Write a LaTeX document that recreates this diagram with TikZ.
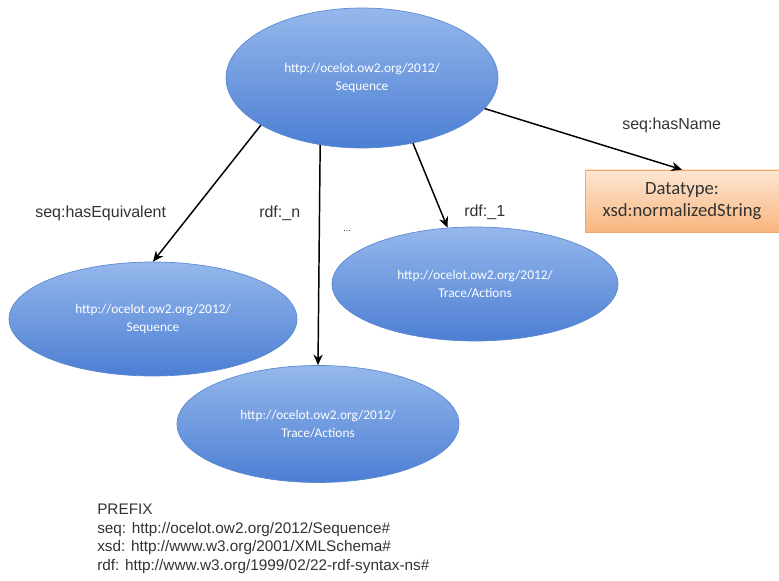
\documentclass[tikz,border=0pt]{standalone}
\usepackage{fontspec}
\setmainfont{Liberation Sans}
\newfontfamily\calib{Carlito}
\usetikzlibrary{shapes.geometric,arrows.meta}
\definecolor{bluetop}{HTML}{95B8EC}
\definecolor{bluebot}{HTML}{4C7ED3}
\definecolor{bluedraw}{HTML}{5B88CF}
\definecolor{orgtop}{HTML}{FDE6D2}
\definecolor{orgbot}{HTML}{F8B67E}
\definecolor{orgdraw}{HTML}{F3A866}
\definecolor{labelgray}{HTML}{333333}
\begin{document}
\begin{tikzpicture}[x=0.75pt,y=-0.75pt,
  res/.style={ellipse, draw=bluedraw, line width=0.5pt, top color=bluetop, bottom color=bluebot,
    text=white, font=\calib\fontsize{10}{14}\selectfont, align=center, inner sep=0pt},
  dtype/.style={rectangle, draw=orgdraw, line width=0.5pt, top color=orgtop, bottom color=orgbot,
    text=black!80, font=\calib\fontsize{14}{16}\selectfont, align=center, inner sep=0pt},
  conn/.style={-{Stealth[length=8pt,width=7pt]}, line width=1.1pt, black},
  lbl/.style={font=\fontsize{12}{14}\selectfont, text=labelgray, inner sep=0pt}
]
\useasboundingbox (0,0) rectangle (779,581);
\node[res, minimum width=272*0.75pt, minimum height=140*0.75pt] (top) at (362,78) {http://ocelot.ow2.org/2012/\\Sequence};
\node[res, minimum width=288*0.75pt, minimum height=114*0.75pt] (left) at (153,319) {http://ocelot.ow2.org/2012/\\Sequence};
\node[res, minimum width=286*0.75pt, minimum height=114*0.75pt] (right) at (475,284) {http://ocelot.ow2.org/2012/\\Trace/Actions};
\node[res, minimum width=282*0.75pt, minimum height=117*0.75pt] (bottom) at (318,424) {http://ocelot.ow2.org/2012/\\Trace/Actions};
\node[dtype, minimum width=194*0.75pt, minimum height=62*0.75pt] (dt) at (682,201) {Datatype:\\xsd:normalizedString};

\draw[conn] (top.205) -- (left.north);
\draw[conn] (top.238) -- (bottom.north);
\draw[conn] (top.308) -- (right.116);
\draw[conn] (top.346) -- (dt.north);

\node[lbl, anchor=west] (l1) at (35,213) {seq:hasEquivalent};
\node[lbl, anchor=west] (l2) at (259,213) {rdf:\_n};
\node[lbl, anchor=west] (l3) at (343,231) {\fontsize{7}{8}\selectfont ...};
\node[lbl, anchor=west] (l4) at (464,212) {rdf:\_1};
\node[lbl, anchor=west] (l5) at (622,125) {seq:hasName};

\node[lbl, anchor=north west, align=left, font=\fontsize{11.5}{13.9}\selectfont] (prefix) at (97,504)
 {PREFIX\\seq: http://ocelot.ow2.org/2012/Sequence\#\\xsd: http://www.w3.org/2001/XMLSchema\#\\rdf: http://www.w3.org/1999/02/22-rdf-syntax-ns\#};
\end{tikzpicture}
\end{document}
